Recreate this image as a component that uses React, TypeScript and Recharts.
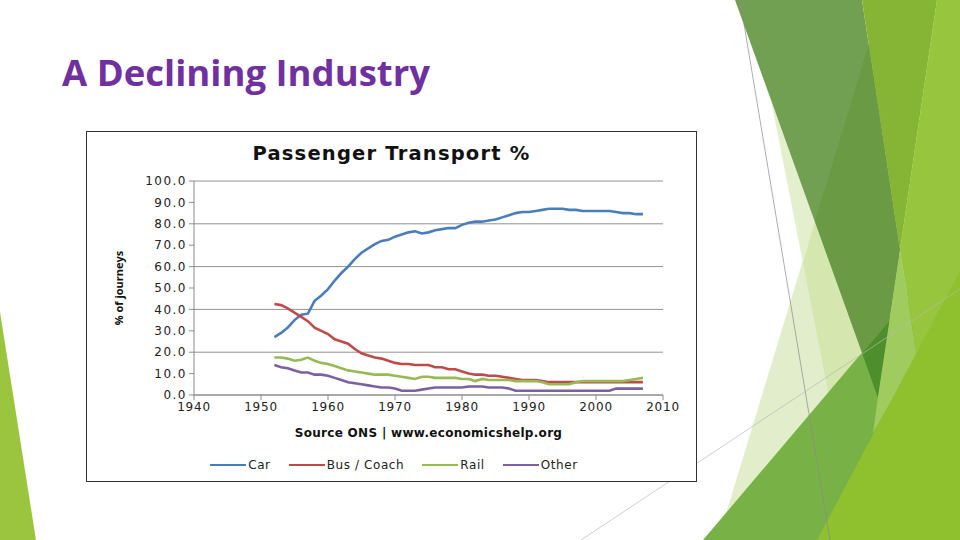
import React from "react";
import { LineChart, Line, XAxis, YAxis, CartesianGrid, Legend } from "recharts";

const years = [
  1952, 1953, 1954, 1955, 1956, 1957, 1958, 1959, 1960, 1961, 1962, 1963, 1964, 1965,
  1966, 1967, 1968, 1969, 1970, 1971, 1972, 1973, 1974, 1975, 1976, 1977, 1978, 1979,
  1980, 1981, 1982, 1983, 1984, 1985, 1986, 1987, 1988, 1989, 1990, 1991, 1992, 1993,
  1994, 1995, 1996, 1997, 1998, 1999, 2000, 2001, 2002, 2003, 2004, 2005, 2006, 2007,
];

const car = [
  27, 29, 31.5, 35, 37.5, 38, 44, 46.5, 49.5, 53.5, 57, 60, 63.5, 66.5,
  68.5, 70.5, 72, 72.5, 74, 75, 76, 76.5, 75.5, 76, 77, 77.5, 78, 78,
  79.5, 80.5, 81, 81, 81.5, 82, 83, 84, 85, 85.5, 85.5, 86, 86.5, 87,
  87, 87, 86.5, 86.5, 86, 86, 86, 86, 86, 85.5, 85, 85, 84.5, 84.5,
];

const bus = [
  42.5, 42, 40.5, 38.5, 36.5, 34.5, 31.5, 30, 28.5, 26, 25, 24, 21.5, 19.5,
  18.5, 17.5, 17, 16, 15, 14.5, 14.5, 14, 14, 14, 13, 13, 12, 12,
  11, 10, 9.5, 9.5, 9, 9, 8.5, 8, 7.5, 7, 7, 7, 6.5, 6,
  6, 6, 6, 6, 6, 6, 6, 6, 6, 6, 6, 6, 6, 6,
];

const rail = [
  17.5, 17.5, 17, 16, 16.5, 17.5, 16, 15, 14.5, 13.5, 12.5, 11.5, 11, 10.5,
  10, 9.5, 9.5, 9.5, 9, 8.5, 8, 7.5, 8.5, 8.5, 8, 8, 8, 8,
  7.5, 7.5, 6.5, 7.5, 7, 7, 7, 7, 6.5, 6.5, 6.5, 6.5, 6, 5,
  5, 5, 5, 6, 6.5, 6.5, 6.5, 6.5, 6.5, 6.5, 6.5, 7, 7.5, 8,
];

const other = [
  14, 13, 12.5, 11.5, 10.5, 10.5, 9.5, 9.5, 9, 8, 7, 6, 5.5, 5,
  4.5, 4, 3.5, 3.5, 3, 2, 2, 2, 2.5, 3, 3.5, 3.5, 3.5, 3.5,
  3.5, 4, 4, 4, 3.5, 3.5, 3.5, 3, 2, 2, 2, 2, 2, 2,
  2, 2, 2, 2, 2, 2, 2, 2, 2, 3, 3, 3, 3, 3,
];

const xTicks = [1940, 1950, 1960, 1970, 1980, 1990, 2000, 2010];
const yTicks = [0, 10, 20, 30, 40, 50, 60, 70, 80, 90, 100];

const series = [
  { key: "car", name: "Car", color: "#4a7ebb" },
  { key: "bus", name: "Bus / Coach", color: "#be4b48" },
  { key: "rail", name: "Rail", color: "#98b954" },
  { key: "other", name: "Other", color: "#7d60a0" },
];

const data = years.map((year, i) => ({
  year,
  car: car[i],
  bus: bus[i],
  rail: rail[i],
  other: other[i],
}));

const FONT = "'DejaVu Sans', 'Open Sans', sans-serif";
const order = series.map((s) => s.name);

const LegendRow = ({ payload }: any) => {
  const items = [...(payload || [])].sort((a: any, b: any) => order.indexOf(a.value) - order.indexOf(b.value));
  return (
    <div style={{ display: "flex", justifyContent: "center", paddingTop: 15, paddingLeft: 38, fontFamily: FONT, fontSize: 12, letterSpacing: 0.6, color: "#222", lineHeight: "14px" }}>
      {items.map((p: any) => (
        <div key={p.value} style={{ display: "flex", alignItems: "center", margin: "0 9px" }}>
          <span style={{ display: "inline-block", width: 36, height: 2, background: p.color, marginRight: 2 }} />
          <span>{p.value}</span>
        </div>
      ))}
    </div>
  );
};

// slide decoration (Facet-like green shards)
const Decor = () => (
  <svg width={960} height={540} style={{ position: "absolute", left: 0, top: 0 }}>
    <polygon points="0,312 0,540 36,540" fill="#9bc53f" />
    <polygon points="882,0 718,540 960,540 960,0" fill="#e2eecb" />
    <polygon points="771,100 815,221 803,263" fill="#e3efcd" />
    <polygon points="815,221 803,263 857,540 960,540 960,221" fill="#d5e6ae" />
    <polygon points="735,0 862,0 900,250 878,397" fill="#72a052" />
    <polygon points="869,44 900,250 878,397 815,221" fill="#6a9a44" />
    <polygon points="862,0 937,0 900,250" fill="#86b535" />
    <polygon points="703,540 960,237 960,540" fill="#78b246" />
    <polygon points="862,353 890,320 878,398" fill="#4f8e2c" />
    <polygon points="900,250 917,357 873,433 878,397" fill="#a0cb5e" />
    <polygon points="937,0 960,0 960,271 917,357 900,250" fill="#97c63e" />
    <polygon points="817,540 960,271 960,540" fill="#8fc12f" />
    <line x1={740} y1={0} x2={830} y2={540} stroke="#8a8a8a" strokeWidth={0.7} />
    <line x1={581} y1={540} x2={960} y2={289} stroke="#b8b8b8" strokeWidth={0.7} />
  </svg>
);

export default function App() {
  return (
    <div style={{ position: "absolute", left: 0, top: 0, width: 960, height: 540, background: "#fff", overflow: "hidden" }}>
      <Decor />
      <div style={{ position: "absolute", left: 62, top: 49, fontFamily: "'Open Sans', sans-serif", fontWeight: 700, fontSize: 36.5, color: "#7030a0", whiteSpace: "nowrap", lineHeight: "46px" }}>
        A Declining Industry
      </div>
      <div style={{ position: "absolute", left: 86, top: 131, width: 611, height: 351, border: "1px solid #333", boxSizing: "border-box", background: "#fff" }}>
        <div style={{ position: "absolute", left: 0, width: 609, top: 10, textAlign: "center", fontFamily: FONT, fontWeight: 700, fontSize: 19.5, letterSpacing: 1.2, color: "#111" }}>
          Passenger Transport %
        </div>
        <LineChart
          width={609}
          height={349}
          data={data}
          margin={{ top: 49, right: 33, left: 0, bottom: 0 }}
          style={{ fontFamily: FONT }}
        >
          <CartesianGrid vertical={false} stroke="#929292" strokeWidth={1} />
          <XAxis
            dataKey="year"
            type="number"
            domain={[1940, 2010]}
            ticks={xTicks}
            height={48}
            stroke="#8a8a8a"
            tickSize={5}
            tick={{ fill: "#222", fontSize: 12, letterSpacing: 0.8 }}
            label={{ value: "Source ONS | www.economicshelp.org", position: "insideBottom", offset: 6, style: { fill: "#111", fontWeight: 700, fontSize: 12, letterSpacing: 0.3 } }}
          />
          <YAxis
            domain={[0, 100]}
            ticks={yTicks}
            width={107}
            stroke="#8a8a8a"
            tickSize={5}
            tickFormatter={(v: number) => v.toFixed(1)}
            tick={{ fill: "#222", fontSize: 12, letterSpacing: 1.5 }}
            label={{ value: "% of journeys", angle: -90, position: "insideLeft", offset: 32, style: { textAnchor: "middle", fill: "#111", fontWeight: 700, fontSize: 11, fontFamily: "'Open Sans', sans-serif" } }}
          />
          <Legend verticalAlign="bottom" height={38} content={<LegendRow />} />
          {series.map((s) => (
            <Line
              key={s.key}
              type="linear"
              dataKey={s.key}
              name={s.name}
              stroke={s.color}
              strokeWidth={2.6}
              dot={false}
              isAnimationActive={false}
            />
          ))}
        </LineChart>
      </div>
    </div>
  );
}
